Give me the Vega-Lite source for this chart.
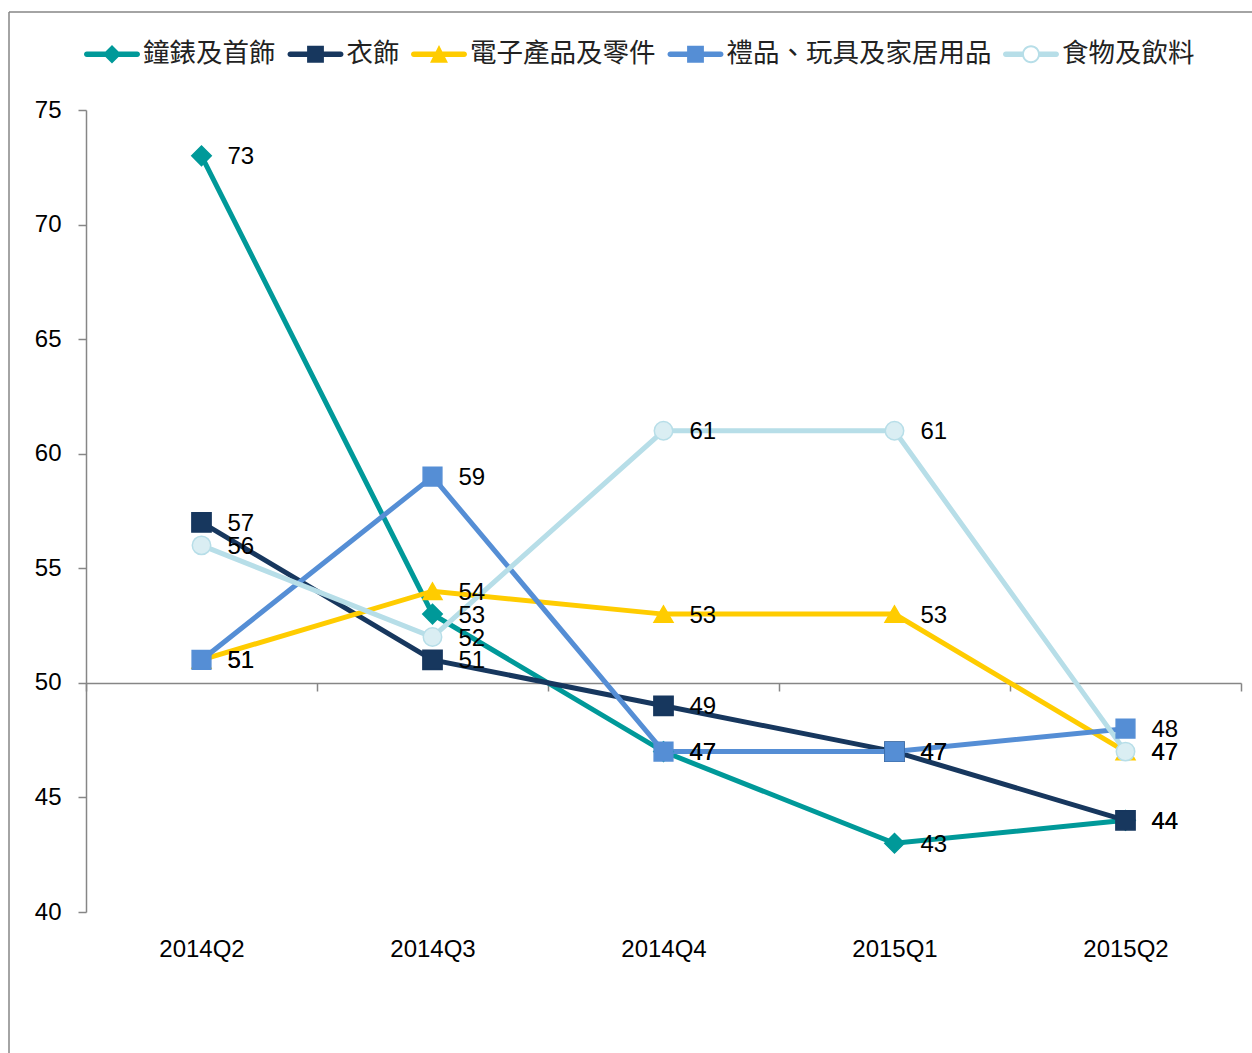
{
  "$schema": "https://vega.github.io/schema/vega-lite/v6.json",
  "autosize": {"type": "none"},
  "padding": {"left": 9, "top": 12, "right": 0, "bottom": 0},
  "width": 1243,
  "height": 1041,
  "background": "#ffffff",
  "config": {
    "view": {"stroke": "#868686", "strokeWidth": 1.5, "strokeDash": [1243, 2284, 1041, 0]},
    "font": "Liberation Sans"
  },
  "data": {
    "values": [
      {"q": "2014Q2", "s": "鐘錶及首飾", "v": 73},
      {"q": "2014Q3", "s": "鐘錶及首飾", "v": 53},
      {"q": "2014Q4", "s": "鐘錶及首飾", "v": 47},
      {"q": "2015Q1", "s": "鐘錶及首飾", "v": 43},
      {"q": "2015Q2", "s": "鐘錶及首飾", "v": 44},
      {"q": "2014Q2", "s": "衣飾", "v": 57},
      {"q": "2014Q3", "s": "衣飾", "v": 51},
      {"q": "2014Q4", "s": "衣飾", "v": 49},
      {"q": "2015Q1", "s": "衣飾", "v": 47},
      {"q": "2015Q2", "s": "衣飾", "v": 44},
      {"q": "2014Q2", "s": "電子產品及零件", "v": 51},
      {"q": "2014Q3", "s": "電子產品及零件", "v": 54},
      {"q": "2014Q4", "s": "電子產品及零件", "v": 53},
      {"q": "2015Q1", "s": "電子產品及零件", "v": 53},
      {"q": "2015Q2", "s": "電子產品及零件", "v": 47},
      {"q": "2014Q2", "s": "禮品、玩具及家居用品", "v": 51},
      {"q": "2014Q3", "s": "禮品、玩具及家居用品", "v": 59},
      {"q": "2014Q4", "s": "禮品、玩具及家居用品", "v": 47},
      {"q": "2015Q1", "s": "禮品、玩具及家居用品", "v": 47},
      {"q": "2015Q2", "s": "禮品、玩具及家居用品", "v": 48},
      {"q": "2014Q2", "s": "食物及飲料", "v": 56},
      {"q": "2014Q3", "s": "食物及飲料", "v": 52},
      {"q": "2014Q4", "s": "食物及飲料", "v": 61},
      {"q": "2015Q1", "s": "食物及飲料", "v": 61},
      {"q": "2015Q2", "s": "食物及飲料", "v": 47}
    ]
  },
  "encoding": {
    "x": {
      "field": "q", "type": "nominal", "sort": null,
      "scale": {"type": "band", "domain": ["2014Q2", "2014Q3", "2014Q4", "2015Q1", "2015Q2"], "range": [77, 1232], "paddingInner": 0, "paddingOuter": 0},
      "axis": {
        "orient": "bottom", "offset": -370, "title": null, "tickBand": "extent",
        "domainColor": "#868686", "domainWidth": 1.5, "tickColor": "#868686", "tickWidth": 1.5, "tickSize": 8,
        "labelAngle": 0, "labelFont": "Liberation Sans", "labelFontSize": 24, "labelColor": "#000000",
        "labelPadding": 246, "grid": false
      }
    },
    "y": {
      "field": "v", "type": "quantitative",
      "scale": {"domain": [40, 75], "range": [900, 98], "nice": false, "zero": false},
      "axis": {
        "orient": "left", "offset": -77, "title": null, "values": [40, 45, 50, 55, 60, 65, 70, 75],
        "domainColor": "#868686", "domainWidth": 1.5, "tickColor": "#868686", "tickWidth": 1.5, "tickSize": 8,
        "labelFont": "Liberation Sans", "labelFontSize": 24, "labelColor": "#000000", "labelPadding": 17, "grid": false
      }
    }
  },
  "layer": [
    {
      "mark": {"type": "line", "strokeWidth": 5},
      "encoding": {
        "color": {
          "field": "s", "type": "nominal", "legend": null,
          "scale": {"domain": ["鐘錶及首飾", "衣飾", "電子產品及零件", "禮品、玩具及家居用品", "食物及飲料"], "range": ["#009999", "#17375E", "#FFCC00", "#558ED5", "#B7DEE8"]}
        }
      }
    },
    {
      "mark": {"type": "point", "filled": true, "opacity": 1, "strokeWidth": 1.5},
      "encoding": {
        "fill": {
          "field": "s", "type": "nominal", "legend": null,
          "scale": {"domain": ["鐘錶及首飾", "衣飾", "電子產品及零件", "禮品、玩具及家居用品", "食物及飲料"], "range": ["#009999", "#17375E", "#FFCC00", "#558ED5", "#DAEEF3"]}
        },
        "stroke": {
          "field": "s", "type": "nominal", "legend": null,
          "scale": {"domain": ["鐘錶及首飾", "衣飾", "電子產品及零件", "禮品、玩具及家居用品", "食物及飲料"], "range": ["#009999", "#17375E", "#FFCC00", "#558ED5", "#B7DEE8"]}
        },
        "shape": {
          "field": "s", "type": "nominal", "legend": null,
          "scale": {"domain": ["鐘錶及首飾", "衣飾", "電子產品及零件", "禮品、玩具及家居用品", "食物及飲料"], "range": ["diamond", "square", "triangle-up", "square", "circle"]}
        },
        "size": {
          "field": "s", "type": "nominal", "legend": null,
          "scale": {"domain": ["鐘錶及首飾", "衣飾", "電子產品及零件", "禮品、玩具及家居用品", "食物及飲料"], "range": [380, 340, 420, 340, 300]}
        }
      }
    },
    {
      "mark": {"type": "text", "align": "left", "baseline": "middle", "dx": 26, "dy": 1.5, "fontSize": 24, "font": "Liberation Sans", "color": "#000000"},
      "encoding": {"text": {"field": "v", "type": "quantitative"}}
    },
    {
      "transform": [{"filter": "false"}],
      "mark": {"type": "point", "filled": true, "opacity": 1, "size": 3136, "strokeWidth": 0},
      "encoding": {
        "color": {
          "field": "s", "type": "nominal",
          "scale": {"domain": ["鐘錶及首飾", "衣飾", "電子產品及零件", "禮品、玩具及家居用品", "食物及飲料"], "range": ["#009999", "#17375E", "#FFCC00", "#558ED5", "#B7DEE8"]},
          "legend": {
            "orient": "none", "legendX": 75, "legendY": 14, "direction": "horizontal", "title": null,
            "labelFont": "Noto Sans CJK TC", "labelFontSize": 26.5, "labelColor": "#222222", "labelLimit": 500,
            "symbolSize": 3136, "symbolStrokeWidth": 0, "labelOffset": 3, "columnPadding": 11.5, "symbolOpacity": 1
          }
        },
        "shape": {
          "field": "s", "type": "nominal",
          "scale": {
            "domain": ["鐘錶及首飾", "衣飾", "電子產品及零件", "禮品、玩具及家居用品", "食物及飲料"],
            "range": [
              "M-0.9,-0.1H0.9A0.1,0.1 0 0,1 0.9,0.1H-0.9A0.1,0.1 0 0,1 -0.9,-0.1Z M0,-0.33L0.33,0L0,0.33L-0.33,0Z",
              "M-0.9,-0.1H0.9A0.1,0.1 0 0,1 0.9,0.1H-0.9A0.1,0.1 0 0,1 -0.9,-0.1Z M-0.3,-0.3H0.3V0.3H-0.3Z",
              "M-0.9,-0.1H0.9A0.1,0.1 0 0,1 0.9,0.1H-0.9A0.1,0.1 0 0,1 -0.9,-0.1Z M0,-0.33L0.32,0.3L-0.32,0.3Z",
              "M-0.9,-0.1H0.9A0.1,0.1 0 0,1 0.9,0.1H-0.9A0.1,0.1 0 0,1 -0.9,-0.1Z M-0.3,-0.3H0.3V0.3H-0.3Z",
              "M-0.9,-0.1H-0.3V0.1H-0.9A0.1,0.1 0 0,1 -0.9,-0.1Z M0.3,-0.1H0.9A0.1,0.1 0 0,1 0.9,0.1H0.3Z M0.32,0A0.32,0.32 0 1,1 -0.32,0A0.32,0.32 0 1,1 0.32,0Z M0.25,0A0.25,0.25 0 1,0 -0.25,0A0.25,0.25 0 1,0 0.25,0Z"
            ]
          },
          "legend": {
            "orient": "none", "legendX": 75, "legendY": 14, "direction": "horizontal", "title": null,
            "labelFont": "Noto Sans CJK TC", "labelFontSize": 26.5, "labelColor": "#222222", "labelLimit": 500,
            "symbolSize": 3136, "symbolStrokeWidth": 0, "labelOffset": 3, "columnPadding": 11.5, "symbolOpacity": 1
          }
        }
      }
    }
  ],
  "resolve": {"scale": {"color": "independent", "shape": "independent", "fill": "independent", "stroke": "independent", "size": "independent"}}
}
